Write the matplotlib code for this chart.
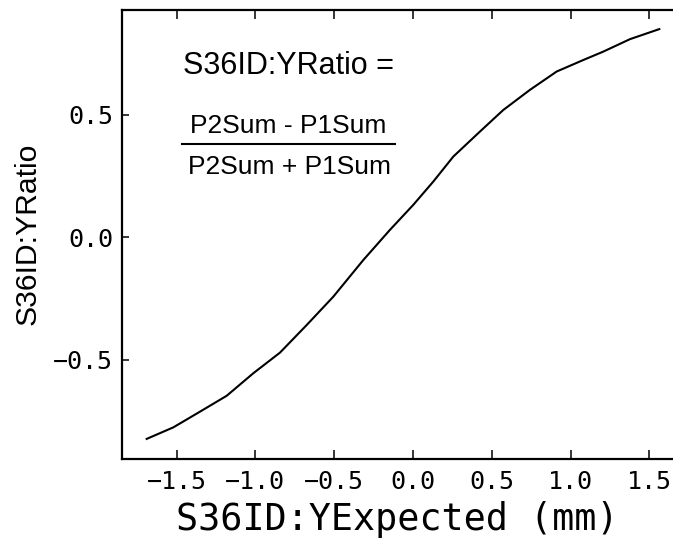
import matplotlib
matplotlib.use("Agg")
import matplotlib.pyplot as plt
from matplotlib.lines import Line2D

# ratio curve vs expected vertical position
y_expected = [-1.690, -1.521, -1.352, -1.182, -1.013, -0.844, -0.674, -0.506,
              -0.315, -0.146, 0.002, 0.129, 0.256, 0.425, 0.573, 0.742,
              0.912, 1.081, 1.207, 1.377, 1.563]
y_ratio = [-0.822, -0.775, -0.711, -0.646, -0.554, -0.470, -0.357, -0.242,
           -0.092, 0.031, 0.133, 0.228, 0.330, 0.432, 0.520, 0.602,
           0.677, 0.724, 0.758, 0.809, 0.850]

x_ticks = [-1.5, -1.0, -0.5, 0.0, 0.5, 1.0, 1.5]
y_ticks = [-0.5, 0.0, 0.5]

W, H = 673, 552
fig = plt.figure(figsize=(W / 100, H / 100), dpi=100)
ax = fig.add_axes([122 / W, 1 - 459 / H, (W - 122) / W, (459 - 9.5) / H])

ax.plot(y_expected, y_ratio, color="black", lw=1.5)
ax.set_xlim(-1.8465, 1.650)
ax.set_ylim(-0.904, 0.930)

ax.set_xticks(x_ticks)
ax.set_yticks(y_ticks)
ax.set_xticklabels([f"{v:.1f}".replace("-", "\u2212") for v in x_ticks])
ax.set_yticklabels([f"{v:.1f}".replace("-", "\u2212") for v in y_ticks])

ax.spines["right"].set_visible(False)
for s in ("left", "bottom", "top"):
    ax.spines[s].set_linewidth(1.6)

ax.tick_params(axis="x", which="both", direction="in", top=True, bottom=True,
               length=6.5, width=1.1, pad=8)
ax.tick_params(axis="y", which="both", direction="in", left=True, right=False,
               length=5, width=1.1, pad=6.5)
for lab in ax.get_xticklabels() + ax.get_yticklabels():
    lab.set_fontfamily("DejaVu Sans Mono")
    lab.set_fontsize(18)

ax.set_xlabel("S36ID:YExpected (mm)", family="DejaVu Sans Mono", fontsize=26.5, labelpad=5)
ax.set_ylabel("S36ID:YRatio", family="Liberation Sans", fontsize=21.7, labelpad=8)

# formula annotation
fig.text(183 / W, 1 - 74 / H, "S36ID:YRatio =", family="Liberation Sans",
         fontsize=22, ha="left", va="baseline")
fig.text(288 / W, 1 - 133 / H, "P2Sum - P1Sum", family="Liberation Sans",
         fontsize=19, ha="center", va="baseline")
fig.add_artist(Line2D([182 / W, 395 / W], [1 - 144 / H, 1 - 144 / H],
                      color="black", lw=1.5, transform=fig.transFigure))
fig.text(290 / W, 1 - 174 / H, "P2Sum + P1Sum", family="Liberation Sans",
         fontsize=19, ha="center", va="baseline")

fig.savefig("out.png", dpi=100)
